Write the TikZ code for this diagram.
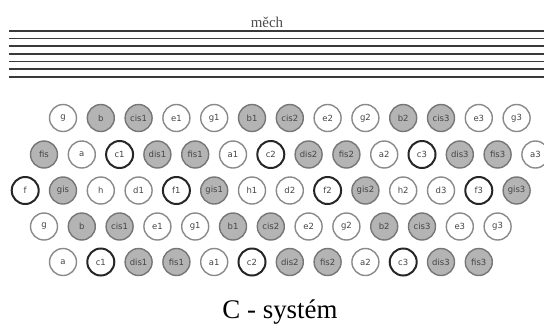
\documentclass[tikz,border=0pt]{standalone}
\usepackage{fontspec}
\setmainfont{Liberation Serif}
\newfontfamily\keyfont{DejaVu Sans}
\definecolor{rimgray}{HTML}{8A8A8A}
\definecolor{keyfill}{HTML}{B4B4B4}
\definecolor{keyrim}{HTML}{767676}
\definecolor{linegray}{HTML}{3A3A3A}
\definecolor{keytext}{HTML}{444444}
\tikzset{
  key/.style={circle, minimum size=27bp, inner sep=0pt, line width=1.4bp,
    font=\keyfont\fontsize{8.5}{9}\selectfont, text=keytext},
  wk/.style={key, draw=rimgray, fill=white},
  bk/.style={key, draw=keyrim, fill=keyfill},
  ck/.style={key, draw=black!85, fill=white, line width=2bp},
  bellows/.style={draw=linegray, line width=1.6bp},
}
\begin{document}
\begin{tikzpicture}[x=1bp,y=-1bp]
\useasboundingbox (0,0) rectangle (544,329);
% bellows
\foreach \i in {0,...,6} {
  \coordinate (L\i) at (9,{30.7+7.67*\i});
  \coordinate (R\i) at (544,{30.7+7.67*\i});
  \draw[bellows] (L\i) -- (R\i);
}
\node[font=\fontsize{15}{16}\selectfont, text=black!70, anchor=base] (mech) at (267,27) {měch};
% row 1
\foreach [count=\i from 0] \n/\s in {g/wk,b/bk,cis1/bk,e1/wk,g1/wk,b1/bk,cis2/bk,e2/wk,g2/wk,b2/bk,cis3/bk,e3/wk,g3/wk}
  \node[\s] (ra\i) at ({63+37.8*\i},118) {\n};
% row 2
\foreach [count=\i from 0] \n/\s in {fis/bk,a/wk,c1/ck,dis1/bk,fis1/bk,a1/wk,c2/ck,dis2/bk,fis2/bk,a2/wk,c3/ck,dis3/bk,fis3/bk,a3/wk}
  \node[\s] (rb\i) at ({44+37.8*\i},154.5) {\n};
% row 3
\foreach [count=\i from 0] \n/\s in {f/ck,gis/bk,h/wk,d1/wk,f1/ck,gis1/bk,h1/wk,d2/wk,f2/ck,gis2/bk,h2/wk,d3/wk,f3/ck,gis3/bk}
  \node[\s] (rc\i) at ({25.2+37.8*\i},190.5) {\n};
% row 4
\foreach [count=\i from 0] \n/\s in {g/wk,b/bk,cis1/bk,e1/wk,g1/wk,b1/bk,cis2/bk,e2/wk,g2/wk,b2/bk,cis3/bk,e3/wk,g3/wk}
  \node[\s] (rd\i) at ({44+37.8*\i},226.5) {\n};
% row 5
\foreach [count=\i from 0] \n/\s in {a/wk,c1/ck,dis1/bk,fis1/bk,a1/wk,c2/ck,dis2/bk,fis2/bk,a2/wk,c3/ck,dis3/bk,fis3/bk}
  \node[\s] (re\i) at ({63+37.8*\i},262) {\n};
% caption
\node[font=\fontsize{27}{29}\selectfont, anchor=base] (caption) at (280,318) {C - systém};
\end{tikzpicture}
\end{document}
